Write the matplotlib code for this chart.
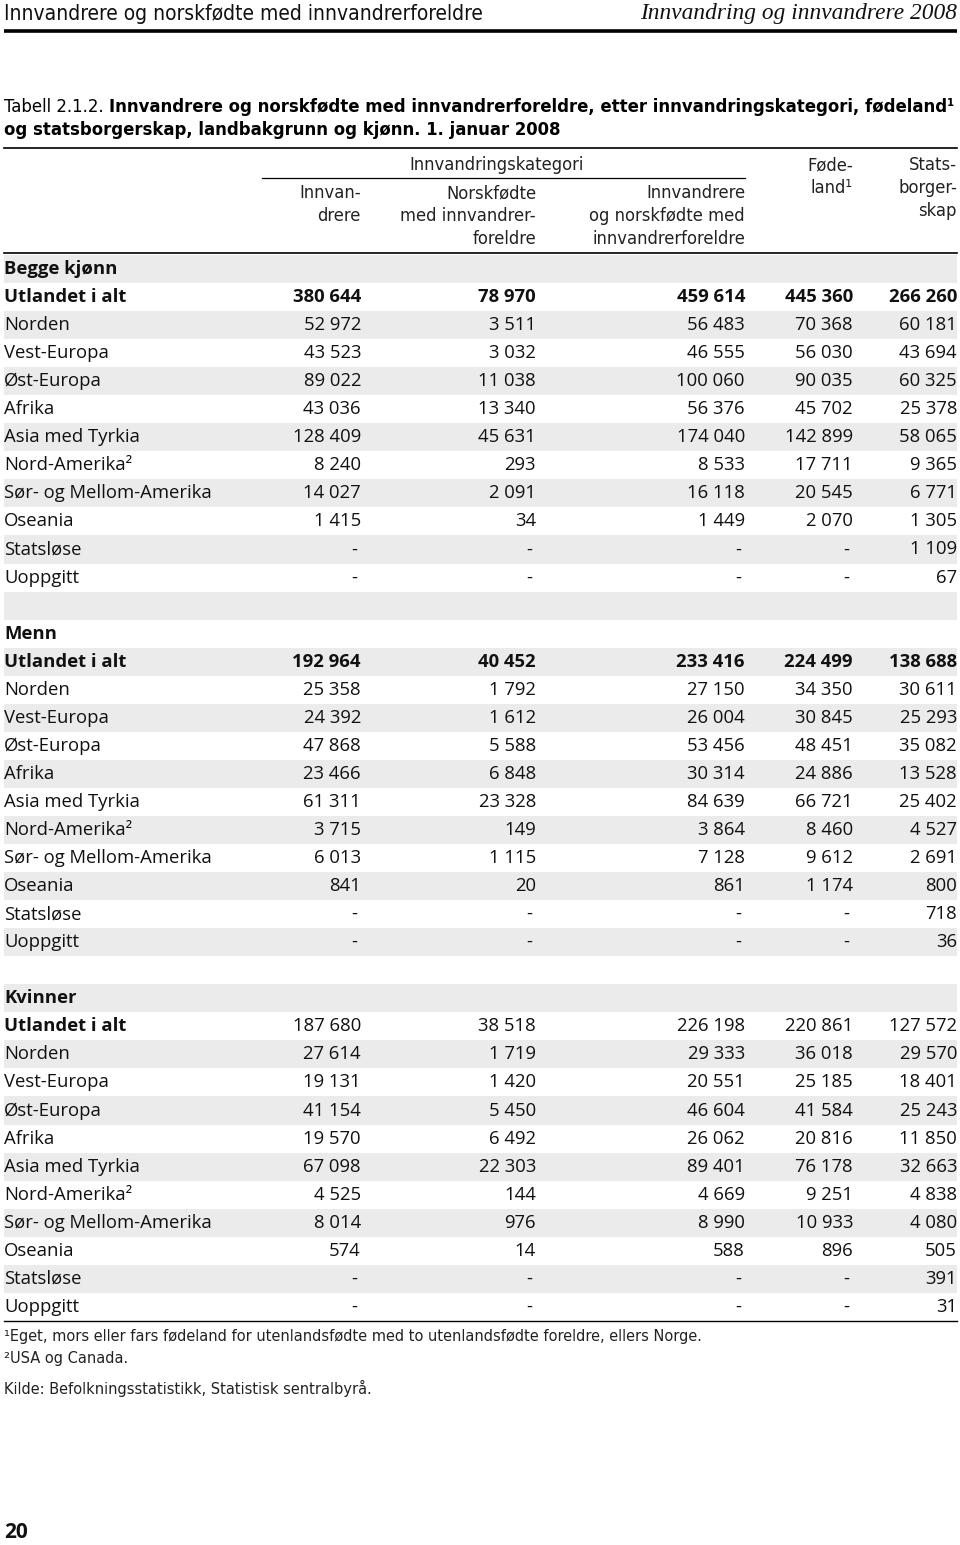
import matplotlib
matplotlib.use("Agg")
import matplotlib.pyplot as plt
from matplotlib import font_manager as fm
from matplotlib.font_manager import FontProperties

# ---------------- data ----------------
regions = ["Utlandet i alt", "Norden", "Vest-Europa", "Øst-Europa", "Afrika",
           "Asia med Tyrkia", "Nord-Amerika²", "Sør- og Mellom-Amerika",
           "Oseania", "Statsløse", "Uoppgitt"]

begge_innv = [380644, 52972, 43523, 89022, 43036, 128409, 8240, 14027, 1415, None, None]
begge_norsk = [78970, 3511, 3032, 11038, 13340, 45631, 293, 2091, 34, None, None]
begge_tot = [459614, 56483, 46555, 100060, 56376, 174040, 8533, 16118, 1449, None, None]
begge_fode = [445360, 70368, 56030, 90035, 45702, 142899, 17711, 20545, 2070, None, None]
begge_stat = [266260, 60181, 43694, 60325, 25378, 58065, 9365, 6771, 1305, 1109, 67]

menn_innv = [192964, 25358, 24392, 47868, 23466, 61311, 3715, 6013, 841, None, None]
menn_norsk = [40452, 1792, 1612, 5588, 6848, 23328, 149, 1115, 20, None, None]
menn_tot = [233416, 27150, 26004, 53456, 30314, 84639, 3864, 7128, 861, None, None]
menn_fode = [224499, 34350, 30845, 48451, 24886, 66721, 8460, 9612, 1174, None, None]
menn_stat = [138688, 30611, 25293, 35082, 13528, 25402, 4527, 2691, 800, 718, 36]

kvinner_innv = [187680, 27614, 19131, 41154, 19570, 67098, 4525, 8014, 574, None, None]
kvinner_norsk = [38518, 1719, 1420, 5450, 6492, 22303, 144, 976, 14, None, None]
kvinner_tot = [226198, 29333, 20551, 46604, 26062, 89401, 4669, 8990, 588, None, None]
kvinner_fode = [220861, 36018, 25185, 41584, 20816, 76178, 9251, 10933, 896, None, None]
kvinner_stat = [127572, 29570, 18401, 25243, 11850, 32663, 4838, 4080, 505, 391, 31]

sections = [
    ("Begge kjønn", [begge_innv, begge_norsk, begge_tot, begge_fode, begge_stat], True),
    ("Menn", [menn_innv, menn_norsk, menn_tot, menn_fode, menn_stat], True),
    ("Kvinner", [kvinner_innv, kvinner_norsk, kvinner_tot, kvinner_fode, kvinner_stat], False),
]

col_headers = [["Innvan-", "drere"],
               ["Norskfødte", "med innvandrer-", "foreldre"],
               ["Innvandrere", "og norskfødte med", "innvandrerforeldre"]]
col_headers_right = [["Føde-", "land¹"], ["Stats-", "borger-", "skap"]]
group_header = "Innvandringskategori"

page_left = "Innvandrere og norskfødte med innvandrerforeldre"
page_right = "Innvandring og innvandrere 2008"
title_reg = "Tabell 2.1.2. "
title_bold1 = "Innvandrere og norskfødte med innvandrerforeldre, etter innvandringskategori, fødeland¹"
title_bold2 = "og statsborgerskap, landbakgrunn og kjønn. 1. januar 2008"
footnotes = ["¹Eget, mors eller fars fødeland for utenlandsfødte med to utenlandsfødte foreldre, ellers Norge.",
             "²USA og Canada."]
source = "Kilde: Befolkningsstatistikk, Statistisk sentralbyrå."
page_no = "20"

# ---------------- fonts ----------------
names = {f.name for f in fm.fontManager.ttflist}
BODY = "Open Sans" if "Open Sans" in names else "DejaVu Sans"
SERIF = "Liberation Serif"


def narrow_font(bold=False):
    cands = []
    for f in fm.fontManager.ttflist:
        s = str(f.stretch).lower()
        if ("narrow" in f.name.lower() or "condensed" in f.name.lower()
                or (isinstance(f.stretch, str) and "condensed" in s and "semi" not in s and "extra" not in s and "ultra" not in s)):
            if f.style != "normal":
                continue
            w = f.weight if isinstance(f.weight, int) else (700 if "bold" in str(f.weight) else 400)
            cands.append((abs(w - (700 if bold else 400)), f.fname))
    if cands:
        cands.sort()
        return FontProperties(fname=cands[0][1])
    return FontProperties(family="Liberation Sans", weight="bold" if bold else "normal")


NAR = narrow_font(False)
NARB = narrow_font(True)

W, H = 960, 1545
fig = plt.figure(figsize=(W / 100, H / 100), dpi=100)
ax = fig.add_axes([0, 0, 1, 1])
ax.set_xlim(0, W)
ax.set_ylim(H, 0)
ax.axis("off")
renderer = fig.canvas.get_renderer()


def fit(t, width):
    bb = t.get_window_extent(renderer)
    t.set_fontsize(t.get_fontsize() * width / bb.width)
    return t


def ntext(x, y, s, fp, size, **kw):
    p = fp.copy()
    p.set_size(size)
    return ax.text(x, y, s, fontproperties=p, **kw)


def fmt(v):
    if v is None:
        return "-"
    return f"{v:,}".replace(",", " ")

# ---------------- page header ----------------
t = ntext(4, 14, page_left, NAR, 14, va="center", ha="left", color="#111111")
fit(t, 483)
t = ax.text(957, 14, page_right, family=SERIF, style="italic", fontsize=14, va="center", ha="right", color="#111111")
fit(t, 316)
ax.plot([4, 957], [31, 31], color="black", lw=2.6, solid_capstyle="butt")

# ---------------- title ----------------
t1 = ntext(4, 107, title_reg, NAR, 13.5, va="center", ha="left")
fig.canvas.draw()
bb = t1.get_window_extent(renderer)
t2 = ntext(bb.x1, 107, title_bold1, NARB, 13.5, va="center", ha="left", weight="bold")
fit(t2, 955 - bb.x1)
fs_title = t2.get_fontsize()
t1.set_fontsize(fs_title)
fig.canvas.draw()
bb = t1.get_window_extent(renderer)
t2.set_x(bb.x1)
ntext(4, 130, title_bold2, NARB, fs_title, va="center", ha="left", weight="bold")

# ---------------- table geometry ----------------
x_left, x_right = 4, 957
col_x = [361, 536, 745, 853, 957]
row0 = 269
pitch = 28.05
band = "#ebebeb"

ax.plot([x_left, x_right], [148, 148], color="black", lw=1.2)
g = ntext(497, 165, group_header, NAR, 13, ha="center", va="center", color="#222222")
fit(g, 175)
hfs = g.get_fontsize()
ax.plot([262, 745], [178, 178], color="black", lw=0.9)
for cx, lines in zip(col_x[:3], col_headers):
    for k, s in enumerate(lines):
        ntext(cx, 193 + 23 * k, s, NAR, hfs, ha="right", va="center", color="#222222")
for cx, lines in zip(col_x[3:], col_headers_right):
    for k, s in enumerate(lines):
        ntext(cx, 165 + 23 * k, s, NAR, hfs, ha="right", va="center", color="#222222")
ax.plot([x_left, x_right], [253, 253], color="black", lw=1.2)

# ---------------- rows ----------------
bfs = 13.3
rows = []
for si, (name, cols, bold_tot) in enumerate(sections):
    if si > 0:
        rows.append(("", None, False, False))
    rows.append((name, None, True, False))
    for ri, reg in enumerate(regions):
        vals = [c[ri] for c in cols]
        rows.append((reg, vals, ri == 0, ri == 0 and bold_tot))

for i, (label, vals, bold_label, bold_vals) in enumerate(rows):
    yc = row0 + pitch * i
    if i % 2 == 0:
        ax.fill_between([x_left, x_right], yc - pitch / 2, yc + pitch / 2, color=band, lw=0)
    if label:
        ax.text(x_left, yc, label, family=BODY, fontsize=bfs, weight="bold" if bold_label else "normal",
                ha="left", va="center", color="#111111")
    if vals is not None:
        for cx, v in zip(col_x, vals):
            ax.text(cx - (4 if v is None else 0), yc, fmt(v), family=BODY, fontsize=bfs,
                    weight="bold" if bold_vals else "normal", ha="right", va="center", color="#111111")

y_end = row0 + pitch * (len(rows) - 1) + pitch / 2
ax.plot([x_left, x_right], [y_end, y_end], color="black", lw=1.0)

# ---------------- footnotes ----------------
t = ntext(4, 1337, footnotes[0], NAR, 11.3, ha="left", va="center", color="#222222")
fit(t, 705)
ffs = t.get_fontsize()
ntext(4, 1358, footnotes[1], NAR, ffs, ha="left", va="center", color="#222222")
ntext(4, 1388, source, NAR, ffs, ha="left", va="center", color="#222222")

ax.text(4, 1532, page_no, family=BODY, weight="bold", fontsize=15, ha="left", va="center", color="#111111")

fig.savefig("out.png", dpi=100)
